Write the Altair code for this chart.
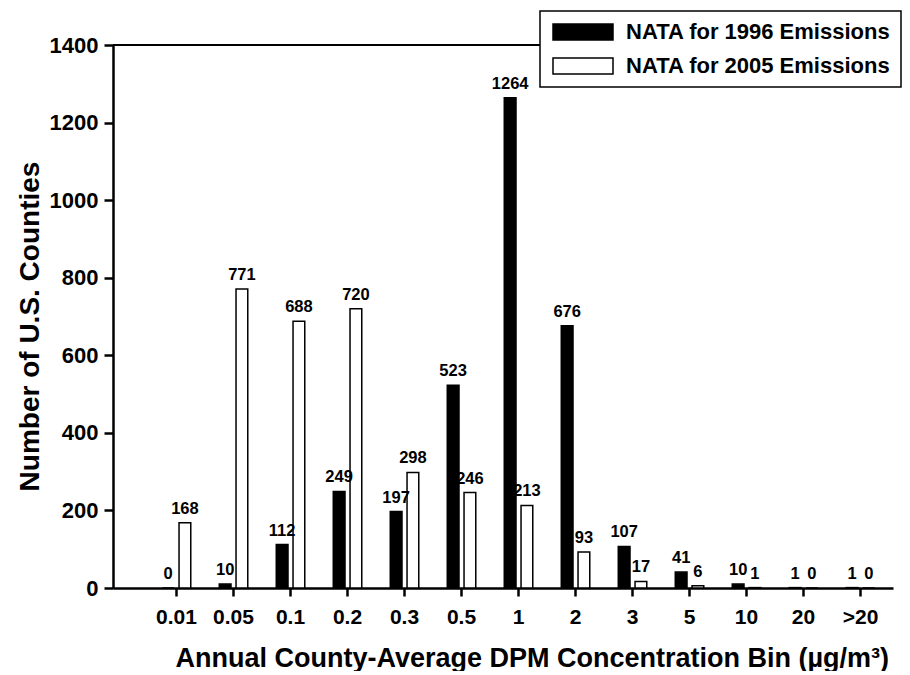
import altair as alt
import pandas as pd

bins = ["0.01", "0.05", "0.1", "0.2", "0.3", "0.5", "1", "2", "3", "5", "10", "20", ">20"]
v1996 = [0, 10, 112, 249, 197, 523, 1264, 676, 107, 41, 10, 1, 1]
v2005 = [168, 771, 688, 720, 298, 246, 213, 93, 17, 6, 1, 0, 0]
series = ["NATA for 1996 Emissions", "NATA for 2005 Emissions"]
y_ticks = [0, 200, 400, 600, 800, 1000, 1200, 1400]

rows = []
for b, a, c in zip(bins, v1996, v2005):
    rows.append({"bin": b, "series": series[0], "count": a})
    rows.append({"bin": b, "series": series[1], "count": c})
df = pd.DataFrame(rows)

FONT = "Liberation Sans"
W = 780
H = 543

x_enc = alt.X(
    "bin:N",
    sort=bins,
    scale=alt.Scale(paddingInner=0.5, paddingOuter=0.592, align=0.73),
    axis=alt.Axis(
        title="Annual County-Average DPM Concentration Bin (µg/m³)",
        labelAngle=0,
        labelFontSize=21,
        labelFontWeight="bold",
        labelFont=FONT,
        labelColor="black",
        labelPadding=10,
        tickSize=8,
        tickWidth=2.5,
        tickColor="black",
        domainWidth=2.5,
        domainColor="black",
        titleFontSize=27,
        titleFontWeight="bold",
        titleFont=FONT,
        titleColor="black",
        titlePadding=18,
        titleAlign="left",
        titleX=62,
    ),
)
xo_enc = alt.XOffset("series:N", sort=series, scale=alt.Scale(paddingInner=0.3))
y_enc = alt.Y(
    "count:Q",
    scale=alt.Scale(domain=[0, 1400], nice=False),
    axis=alt.Axis(
        title="Number of U.S. Counties",
        values=y_ticks,
        format="d",
        grid=False,
        labelFontSize=22,
        labelFontWeight="bold",
        labelFont=FONT,
        labelColor="black",
        labelPadding=6,
        tickSize=9,
        tickWidth=2.5,
        tickColor="black",
        domainWidth=2.5,
        domainColor="black",
        titleFontSize=28,
        titleFontWeight="bold",
        titleFont=FONT,
        titleColor="black",
        titlePadding=5,
        titleY=281,
    ),
)

bars = alt.Chart(df).mark_bar(stroke="black", strokeWidth=1.5).encode(
    x=x_enc,
    xOffset=xo_enc,
    y=y_enc,
    fill=alt.Fill(
        "series:N",
        sort=series,
        scale=alt.Scale(domain=series, range=["black", "white"]),
        legend=alt.Legend(
            title=None,
            orient="none",
            legendX=427,
            legendY=-34,
            padding=10,
            fillColor="white",
            strokeColor="black",
            symbolType="M-1,-1 L6.5,-1 L6.5,1 L-1,1 Z",
            symbolSize=256,
            symbolStrokeColor="black",
            symbolStrokeWidth=1.5,
            symbolOpacity=1,
            labelFontSize=22,
            labelFontWeight="bold",
            labelFont=FONT,
            labelColor="black",
            labelOffset=54,
            labelLimit=400,
            rowPadding=12,
        ),
    ),
)

labels = alt.Chart(df).mark_text(
    baseline="alphabetic", dy=-9, fontSize=16.5, fontWeight="bold", font=FONT, color="black"
).encode(
    x=alt.X("bin:N", sort=bins),
    xOffset=alt.XOffset("series:N", sort=series),
    y="count:Q",
    text="count:Q",
)

top_line = alt.Chart(df).mark_rule(color="black", strokeWidth=2).encode(y=alt.datum(1400))

chart = (
    alt.layer(top_line, bars, labels)
    .properties(width=W, height=H, padding={"left": 8, "top": 2, "right": 0, "bottom": 0})
    .configure_view(stroke=None)
    .configure_legend(strokeWidth=1.5)
)

chart.save("out.html", embed_options={"renderer": "svg", "actions": False})
